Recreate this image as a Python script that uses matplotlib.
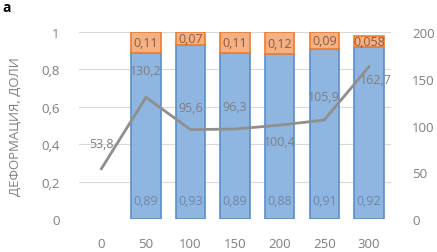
import matplotlib
matplotlib.use("Agg")
import matplotlib.pyplot as plt
import numpy as np

plt.rcParams['font.family'] = ['Open Sans', 'DejaVu Sans']

categories = ["0", "50", "100", "150", "200", "250", "300"]
blue_vals = [0, 0.89, 0.93, 0.89, 0.88, 0.91, 0.92]
orange_vals = [0, 0.11, 0.07, 0.11, 0.12, 0.09, 0.058]
blue_labels = ["", "0,89", "0,93", "0,89", "0,88", "0,91", "0,92"]
orange_labels = ["", "0,11", "0,07", "0,11", "0,12", "0,09", "0,058"]
line_vals = [53.8, 130.2, 95.6, 96.3, 100.4, 105.9, 162.7]
line_labels = ["53,8", "130,2", "95,6", "96,3", "100,4", "105,9", "162,7"]
# label offsets (points) for line labels
line_offsets = [(0, 18), (0, 19), (0, 16), (0, 16), (0, -12), (0, 17), (5, -9)]

fig = plt.figure(figsize=(4.37, 2.53), dpi=100)
ax = fig.add_axes([0.181, 0.1304, 0.714, 0.739])
ax2 = ax.twinx()

x = np.arange(len(categories))
w = 0.66
has_bar = [v > 0 for v in blue_vals]
xb = x[has_bar]
bb = np.array(blue_vals)[has_bar]
ob = np.array(orange_vals)[has_bar]
ax.bar(xb, bb, w, color="#8fb6e1", edgecolor="#5b8fc9", linewidth=1.2, zorder=2)
ax.bar(xb, ob, w, bottom=bb, color="#f4b183", edgecolor="#ed7d31",
       linewidth=1.2, zorder=2)

for i in range(len(x)):
    if blue_labels[i]:
        ax.text(x[i], 0.1, blue_labels[i], ha="center", va="center", fontsize=9,
                color="#6f86a6", zorder=5)
    if orange_labels[i]:
        ax.text(x[i], blue_vals[i] + orange_vals[i] / 2, orange_labels[i], ha="center",
                va="center", fontsize=9, color="#8a5a48", zorder=5)

ax.set_xlim(-0.5, 6.5)
ax.set_ylim(0, 1)
ax.set_yticks(np.arange(0, 1.01, 0.2))
ax.set_yticklabels(["0", "0,2", "0,4", "0,6", "0,8", "1"])
ax.set_xticks(x)
ax.set_xticklabels(categories)
ax.grid(axis="y", color="#d9d9d9", linewidth=0.8, zorder=0)
ax.set_axisbelow(True)

ax2.plot(x, line_vals, color="#8f8f8f", linewidth=2, zorder=4)
for i in range(len(x)):
    ax2.annotate(line_labels[i], (x[i], line_vals[i]), xytext=line_offsets[i],
                 textcoords="offset points", ha="center", va="center", fontsize=9,
                 color="#7f7f7f")
ax2.set_ylim(0, 200)
ax2.set_yticks([0, 50, 100, 150, 200])

for a in (ax, ax2):
    for s in a.spines.values():
        s.set_visible(False)
    a.tick_params(length=0, colors="#7f7f7f", labelsize=9.5)
ax.tick_params(axis="x", pad=13)
ax.tick_params(axis="y", pad=14)
ax2.tick_params(axis="y", pad=15)
ax2.set_zorder(ax.get_zorder() + 1)
ax2.patch.set_visible(False)

ax.set_ylabel("ДЕФОРМАЦИЯ, ДОЛИ", fontsize=9.5, color="#7f7f7f")
ax.yaxis.set_label_coords(-0.185, 0.5)
fig.text(0.005, 0.995, "а", fontsize=10, fontweight="bold", ha="left", va="top")

fig.savefig("out.png", dpi=100)
